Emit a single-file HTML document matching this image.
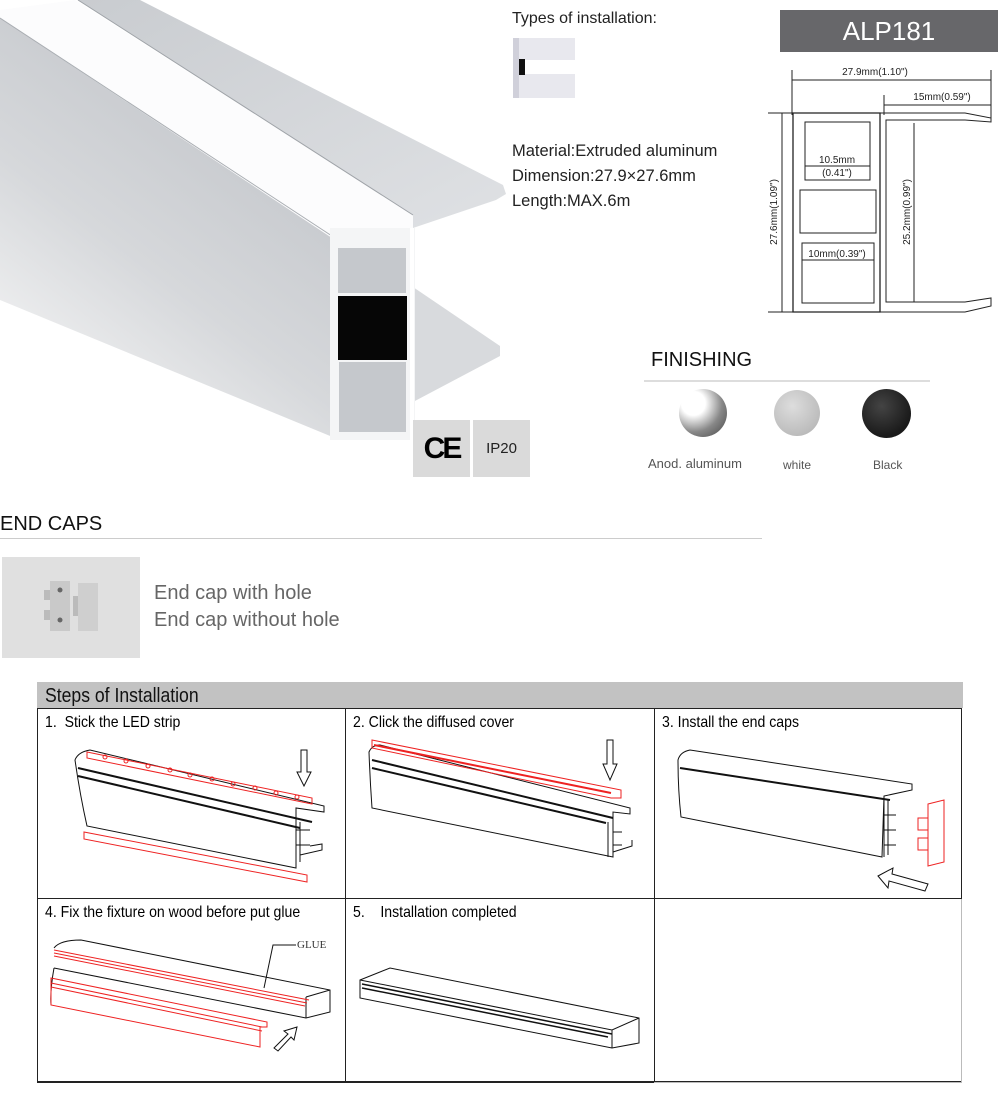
<!DOCTYPE html>
<html><head><meta charset="utf-8"><style>
body{margin:0;width:1000px;height:1104px;background:#fff;position:relative;overflow:hidden;font-family:"Liberation Sans",Arial,sans-serif;}
.a{position:absolute;white-space:nowrap;}
.n{font-family:"Liberation Sans Narrow","Liberation Sans",sans-serif;transform:scaleX(0.88);transform-origin:0 0;}
</style></head><body>

<!-- main product image -->
<svg class="a" style="left:0;top:0" width="540" height="480">
<defs>
<linearGradient id="lf" x1="0.7" y1="0" x2="0.1" y2="1"><stop offset="0" stop-color="#bfc2c7"/><stop offset="0.55" stop-color="#d6d8db"/><stop offset="1" stop-color="#fafafa"/></linearGradient>
<linearGradient id="fl" x1="0" y1="0" x2="1" y2="1"><stop offset="0" stop-color="#c9ccd0"/><stop offset="1" stop-color="#dfe1e4"/></linearGradient>
</defs>
<polygon points="0,18 335,238 335,438 0,300" fill="url(#lf)"/>
<polygon points="78,0 140,0 503,185 506,194 496,200 413,228 413,215" fill="url(#fl)"/>
<polygon points="0,10 75,0 413,215 413,228 335,240 0,18" fill="#fcfcfd"/>
<line x1="78" y1="0" x2="413" y2="215" stroke="#9fa3a8" stroke-width="1"/>
<line x1="0" y1="18" x2="335" y2="238" stroke="#a9adb2" stroke-width="1"/>
<polygon points="413,287 500,346 500,356 413,402" fill="#d8dadd"/>
<rect x="330" y="228" width="85" height="212" fill="#f4f5f6"/>
<rect x="338" y="248" width="68" height="45" fill="#c5c8cc"/>
<rect x="338" y="296" width="69" height="64" fill="#060606"/>
<rect x="339" y="362" width="67" height="70" fill="#c5c8cc"/>
<line x1="412" y1="228" x2="412" y2="440" stroke="#fff" stroke-width="4"/>
</svg>

<div class="a" style="left:512px;top:10px;font-size:16px;color:#222">Types of installation:</div>
<svg class="a" style="left:513px;top:38px" width="64" height="62">
<rect x="0" y="0" width="62" height="60" fill="#e8e8ee"/>
<rect x="8" y="22" width="54" height="14" fill="#fff"/>
<rect x="6" y="21" width="6" height="16" fill="#111"/>
<polygon points="0,0 6,0 6,60 0,60" fill="#d0d0da"/>
</svg>
<div class="a" style="left:512px;top:139px;font-size:16.5px;color:#222;line-height:25px">Material:Extruded aluminum<br>Dimension:27.9×27.6mm<br>Length:MAX.6m</div>

<div class="a" style="left:413px;top:420px;width:57px;height:57px;background:#dadada;font-size:30px;line-height:57px;text-align:center;font-weight:bold;letter-spacing:-3px">CE</div>
<div class="a" style="left:473px;top:420px;width:57px;height:57px;background:#dadada;font-size:15px;line-height:57px;text-align:center;color:#222">IP20</div>

<!-- tech drawing -->
<div class="a" style="left:780px;top:10px;width:218px;height:42px;background:#67676a;color:#fff;font-size:26px;line-height:42px;text-align:center">ALP181</div>
<svg class="a" style="left:760px;top:55px" width="240" height="270" font-family="Liberation Sans,sans-serif" font-size="10" fill="#222">
<g transform="translate(-760,-55)" stroke="#222" stroke-width="1" fill="none">
<line x1="792" y1="70" x2="792" y2="115"/><line x1="991" y1="70" x2="991" y2="118"/>
<line x1="792" y1="80" x2="991" y2="80"/>
<line x1="884" y1="95" x2="884" y2="115"/><line x1="884" y1="105" x2="991" y2="105"/>
<line x1="768" y1="113" x2="793" y2="113"/><line x1="768" y1="312" x2="793" y2="312"/>
<line x1="782" y1="113" x2="782" y2="312"/>
<line x1="914" y1="123" x2="914" y2="302"/>
<path d="M793,113 H880 V312 H793 Z" stroke-width="1.3"/>
<path d="M880,113 H965 L991,118 V122 L965,120 H886 V302 H965 L991,298 V306 L965,312 H880"/>
<path d="M805,122 H870 V180 H805 Z"/>
<path d="M800,190 H876 V233 H800 Z"/>
<path d="M802,243 H874 V303 H802 Z"/>
<line x1="805" y1="166" x2="870" y2="166"/>
<line x1="802" y1="260" x2="874" y2="260"/>
</g>
<g stroke="none">
<text x="115" y="20" text-anchor="middle">27.9mm(1.10")</text>
<text x="182" y="45" text-anchor="middle">15mm(0.59")</text>
<text x="77" y="108" text-anchor="middle">10.5mm</text>
<text x="77" y="121" text-anchor="middle">(0.41")</text>
<text x="77" y="202" text-anchor="middle">10mm(0.39")</text>
<text transform="translate(17,157) rotate(-90)" text-anchor="middle">27.6mm(1.09")</text>
<text transform="translate(150,157) rotate(-90)" text-anchor="middle">25.2mm(0.99")</text>
</g>
</svg>

<!-- finishing -->
<div class="a" style="left:651px;top:349px;font-size:20px;color:#111">FINISHING</div>
<div class="a" style="left:644px;top:380px;width:286px;height:2px;background:#ddd"></div>
<div class="a" style="left:679px;top:389px;width:48px;height:48px;border-radius:50%;background:radial-gradient(circle at 30% 30%,#fff 0,#fff 25%,#888 60%,#444 100%)"></div>
<div class="a" style="left:774px;top:390px;width:46px;height:46px;border-radius:50%;background:radial-gradient(circle at 40% 35%,#ddd,#bdbdbd 70%,#aaa)"></div>
<div class="a" style="left:862px;top:389px;width:49px;height:49px;border-radius:50%;background:radial-gradient(circle at 40% 35%,#444,#1a1a1a 70%)"></div>
<div class="a" style="left:648px;top:456px;font-size:13px;color:#555">Anod. aluminum</div>
<div class="a" style="left:783px;top:458px;font-size:12px;color:#555">white</div>
<div class="a" style="left:873px;top:458px;font-size:12px;color:#555">Black</div>

<!-- end caps -->
<div class="a" style="left:0;top:513px;font-size:20px;color:#111">END CAPS</div>
<div class="a" style="left:0;top:538px;width:762px;height:1px;background:#ccc"></div>
<div class="a" style="left:2px;top:557px;width:138px;height:101px;background:#e0e0e0"></div>
<svg class="a" style="left:40px;top:578px" width="70" height="60">
<rect x="10" y="3" width="20" height="50" fill="#c9c9c9"/><rect x="4" y="12" width="6" height="10" fill="#bbb"/><rect x="4" y="32" width="6" height="10" fill="#bbb"/>
<circle cx="20" cy="12" r="2.5" fill="#666"/><circle cx="20" cy="42" r="2.5" fill="#666"/>
<rect x="38" y="5" width="20" height="48" fill="#cfcfcf"/><rect x="33" y="18" width="5" height="20" fill="#bbb"/>
</svg>
<div class="a" style="left:154px;top:580px;font-size:20px;color:#666;line-height:27px">End cap with hole<br>End cap without hole</div>

<!-- steps table -->
<div class="a" style="left:37px;top:682px;width:926px;height:26px;background:#c2c2c2;"></div>
<div class="a n" style="left:45px;top:683px;font-size:20px;line-height:27px;color:#111">Steps of Installation</div>
<div class="a" style="left:37px;top:708px;width:925px;height:374px;border:1px solid #222;border-right:none;box-sizing:border-box"></div>
<div class="a" style="left:961px;top:708px;width:1px;height:191px;background:#222"></div>
<div class="a" style="left:961px;top:899px;width:1px;height:184px;background:#bbb"></div>
<div class="a" style="left:654px;top:1082px;width:308px;height:1px;background:#bbb"></div>
<div class="a" style="left:37px;top:898px;width:925px;height:1px;background:#222"></div>
<div class="a" style="left:37px;top:1082px;width:617px;height:1px;background:#222"></div>
<div class="a" style="left:345px;top:708px;width:1px;height:374px;background:#222"></div>
<div class="a" style="left:654px;top:708px;width:1px;height:374px;background:#222"></div>
<div class="a n" style="left:45px;top:714px;font-size:16px">1.&nbsp; Stick the LED strip</div>
<div class="a n" style="left:353px;top:714px;font-size:16px">2. Click the diffused cover</div>
<div class="a n" style="left:662px;top:714px;font-size:16px">3. Install the end caps</div>
<div class="a n" style="left:45px;top:904px;font-size:16px">4. Fix the fixture on wood before put glue</div>
<div class="a n" style="left:353px;top:904px;font-size:16px">5.&nbsp;&nbsp;&nbsp; Installation completed</div>

<svg class="a" style="left:0;top:0" width="1000" height="1104" fill="none" stroke="#111" stroke-width="1">
<!-- step1 -->
<path d="M75,760 Q78,752 90,750 L324,806 L324,812 L296,808 L296,868 L87,826 Q80,795 75,760 Z"/>
<line x1="78" y1="768" x2="312" y2="822" stroke-width="2"/>
<line x1="78" y1="776" x2="300" y2="828" stroke-width="2"/>
<path d="M296,812 V868 M300,822 V862 M296,830 H310 M296,845 H310 M300,855 L322,850 V844 L310,846"/>
<path d="M87,752 L312,798 L312,804 L87,758 Z" stroke="#e22"/>
<g stroke="#e22"><circle cx="105" cy="757" r="2"/><circle cx="126" cy="761" r="2"/><circle cx="148" cy="766" r="2"/><circle cx="170" cy="770" r="2"/><circle cx="190" cy="775" r="2"/><circle cx="212" cy="779" r="2"/><circle cx="233" cy="784" r="2"/><circle cx="255" cy="788" r="2"/><circle cx="276" cy="793" r="2"/><circle cx="297" cy="797" r="2"/></g>
<path d="M84,832 L307,875 L307,882 L84,839 Z" stroke="#e22"/>
<path d="M301,750 V772 H297 L304,786 L311,772 H307 V750 Z"/>
<!-- step2 -->
<path d="M369,752 Q372,745 380,745 L630,808 L630,814 L613,812 L613,857 L372,808 Q370,780 369,752 Z"/>
<line x1="372" y1="760" x2="613" y2="818" stroke-width="2"/>
<line x1="372" y1="768" x2="606" y2="823" stroke-width="2"/>
<path d="M372,740 L621,790 L621,798 L611,798 L372,748 Z" stroke="#e22"/>
<line x1="374" y1="745" x2="611" y2="793" stroke="#e22" stroke-width="2"/>
<path d="M608,822 V857 M613,832 H622 M613,845 H622 M613,852 L632,846 V840" />
<path d="M607,740 V764 H603 L610,780 L617,764 H613 V740 Z"/>
<!-- step3 -->
<path d="M678,760 Q680,752 690,750 L912,784 L912,790 L884,796 L882,857 L681,817 Q678,790 678,760 Z"/>
<line x1="680" y1="768" x2="890" y2="800" stroke-width="2"/>
<path d="M884,796 V857 M888,800 V855 M884,815 H896 M884,830 H896 M884,845 H896"/>
<path d="M928,804 L944,800 V862 L928,866 Z M918,818 H928 V830 H918 Z M918,838 H928 V850 H918 Z" stroke="#e22"/>
<path d="M878,876 L893,868 L892,874 L928,884 L925,891 L889,881 L888,888 Z"/>
<!-- step4 -->
<path d="M54,948 Q60,940 81,940 L330,990 L330,1012 L306,1018 L54,968"/>
<path d="M306,997 L330,990 M306,997 V1018 M54,968 Q50,990 51,1005"/>
<path d="M54,950 L309,1000 M54,953 L307,1003 M54,956 L305,1006" stroke="#e22"/>
<path d="M51,978 L267,1022 L267,1027 L260,1027 L260,1047 L51,1005 Z M51,983 L262,1027 M51,987 L262,1031" stroke="#e22"/>
<path d="M264,988 L273,945 H296"/>
<path d="M274,1048 L288,1034 L284,1031 L297,1027 L294,1040 L291,1037 L278,1051 Z"/>
<!-- step5 -->
<path d="M360,980 L390,968 L639,1018 L639,1043 L612,1048 L360,998 Z M360,980 L612,1030 L639,1018 M612,1030 V1048"/>
<path d="M362,984 L612,1034 M362,988 L608,1037" stroke-width="1.5"/>
</svg>
<div class="a" style="left:297px;top:939px;font-family:'Liberation Serif',serif;font-size:11px;color:#333">GLUE</div>
</body></html>
